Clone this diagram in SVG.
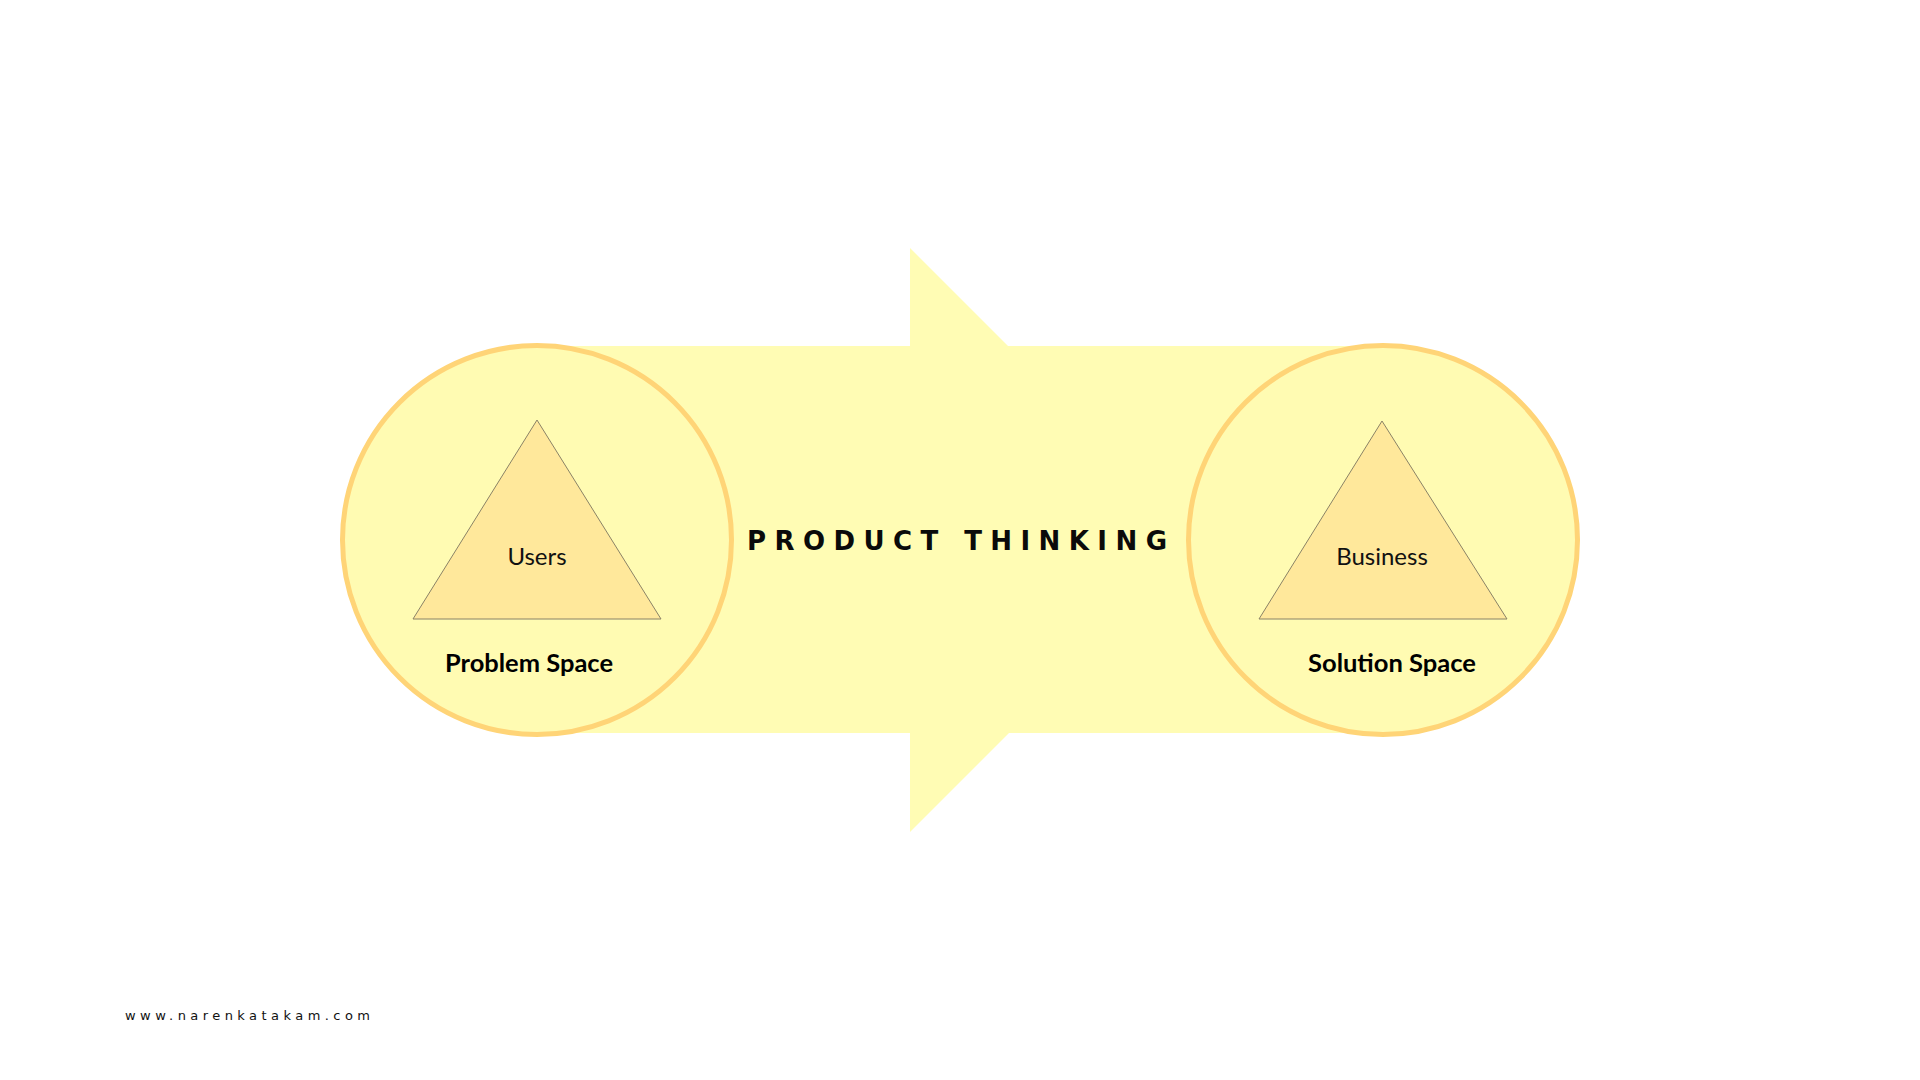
<svg xmlns="http://www.w3.org/2000/svg" width="1920" height="1080" viewBox="0 0 1920 1080">
<style>
.band{fill:#FFFCB4;}
.circ{fill:#FFFBB2;stroke:#FFD477;stroke-width:5;}
.tri{fill:#FFE89B;stroke:#8A8266;stroke-width:1;}
.lbl{font-family:Lato,"Open Sans","Liberation Sans",sans-serif;font-size:24px;fill:#111;text-anchor:middle;}
.sub{font-family:Lato,"Open Sans","Liberation Sans",sans-serif;font-size:25px;font-weight:bold;fill:#000;text-anchor:middle;}
.title{font-family:"DejaVu Sans","Liberation Sans",sans-serif;font-size:26px;font-weight:bold;fill:#0a0a0a;}
.foot{font-family:"DejaVu Sans","Liberation Sans",sans-serif;font-size:13px;fill:#111;}
</style>
<rect width="1920" height="1080" fill="#ffffff"/>
<g id="connectors">
  <rect class="band" x="537" y="346" width="846" height="387"/>
  <polygon class="band" points="910,248 1202,540 910,832"/>
</g>
<text class="title" x="747" y="550" textLength="420" lengthAdjust="spacing">PRODUCT THINKING</text>
<g id="problem-space">
  <circle class="circ" cx="537" cy="540" r="194.5"/>
  <polygon class="tri" points="537,420 661,619 413,619"/>
  <text class="lbl" x="537" y="565">Users</text>
  <text class="sub" x="529" y="672" textLength="168" lengthAdjust="spacingAndGlyphs">Problem Space</text>
</g>
<g id="solution-space">
  <circle class="circ" cx="1383" cy="540" r="194.5"/>
  <polygon class="tri" points="1382,421 1507,619 1259,619"/>
  <text class="lbl" x="1382" y="565">Business</text>
  <text class="sub" x="1392" y="672" textLength="168" lengthAdjust="spacingAndGlyphs">Solution Space</text>
</g>
<text class="foot" x="125" y="1020" textLength="245" lengthAdjust="spacing">www.narenkatakam.com</text>
</svg>
